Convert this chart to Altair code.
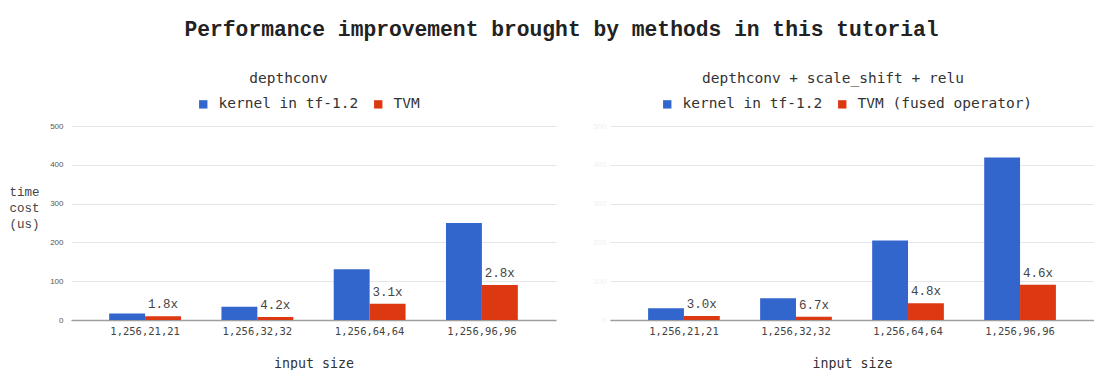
import altair as alt
import pandas as pd

inputs = ["1,256,21,21", "1,256,32,32", "1,256,64,64", "1,256,96,96"]

left_series = ["kernel in tf-1.2", "TVM"]
left_tf = [17, 34, 131, 250]
left_tvm = [9.5, 8, 42, 90]
left_speedup = ["1.8x", "4.2x", "3.1x", "2.8x"]

right_series = ["kernel in tf-1.2", "TVM (fused operator)"]
right_tf = [30, 56, 205, 419]
right_tvm = [10, 8.4, 43, 91]
right_speedup = ["3.0x", "6.7x", "4.8x", "4.6x"]

y_ticks = [0, 100, 200, 300, 400, 500]
colors = ["#3366cc", "#dc3912"]

MONO = "DejaVu Sans Mono"
COURIER = "Courier New, Courier, FreeMono, Nimbus Mono PS, Liberation Mono, monospace"


def panel(tf, tvm, speed, series, title, left, width, legend_x, title_dx):
    rows = []
    for i, inp in enumerate(inputs):
        rows.append({"input": inp, "series": series[0], "value": tf[i], "label": ""})
        rows.append({"input": inp, "series": series[1], "value": tvm[i], "label": speed[i]})
    df = pd.DataFrame(rows)

    x = alt.X(
        "input:N",
        sort=inputs,
        scale=alt.Scale(paddingInner=0.36, paddingOuter=0.34),
        axis=alt.Axis(
            title="input size",
            labelAngle=0,
            labelFont=MONO,
            labelFontSize=10.5,
            labelColor="#444",
            labelPadding=6,
            ticks=False,
            domainColor="#9e9e9e",
            domainWidth=1.5,
            titleFont=MONO,
            titleFontSize=13.3,
            titleFontWeight="normal",
            titleColor="#333",
            titlePadding=20,
        ),
    )
    xo = alt.XOffset(
        "series:N",
        sort=series,
        scale=alt.Scale(domain=series, paddingInner=0, paddingOuter=0),
    )
    if left:
        yaxis = alt.Axis(
            values=y_ticks,
            labelFont="Liberation Sans",
            labelFontSize=8,
            labelColor="#555",
            labelPadding=8,
            ticks=False,
            domain=False,
            gridColor="#e6e6e6",
            title=["time", "cost", "(us)"],
            titleAngle=0,
            titleX=-47,
            titleY=65,
            titleAlign="center",
            titleBaseline="middle",
            titleFont=COURIER,
            titleFontSize=12.5,
            titleFontWeight="normal",
            titleColor="#444",
            titleLineHeight=16,
        )
    else:
        yaxis = alt.Axis(
            values=y_ticks,
            labelFont="Liberation Sans",
            labelFontSize=8,
            labelColor="#f0f0f0",
            labelPadding=4,
            ticks=False,
            domain=False,
            gridColor="#e6e6e6",
            title=None,
        )
    y = alt.Y("value:Q", scale=alt.Scale(domain=[0, 500], nice=False), axis=yaxis)

    bars = alt.Chart(df).mark_bar().encode(
        x=x,
        xOffset=xo,
        y=y,
        color=alt.Color(
            "series:N",
            sort=series,
            scale=alt.Scale(domain=series, range=colors),
            legend=alt.Legend(
                title=None,
                orient="none",
                direction="horizontal",
                legendX=legend_x,
                legendY=-29,
                symbolType="square",
                symbolSize=70,
                symbolStrokeWidth=0,
                labelFont=MONO,
                labelFontSize=14.5,
                labelColor="#333",
                labelOffset=8,
                columnPadding=12,
                labelLimit=400,
            ),
        ),
    )
    texts = alt.Chart(df[df["label"] != ""]).mark_text(
        font=COURIER, fontSize=12.5, color="#444", baseline="bottom", dy=-5
    ).encode(x=x, xOffset=xo, y=y, text="label:N")

    return alt.layer(bars, texts).properties(
        width=width,
        height=194,
        title=alt.TitleParams(
            text=title,
            font=MONO,
            fontSize=14.5,
            fontWeight="normal",
            color="#333",
            anchor="middle",
            dx=title_dx,
            offset=11,
        ),
    )


left_chart = panel(left_tf, left_tvm, left_speedup, left_series, "depthconv", True, 485, 125, -25)
right_chart = panel(
    right_tf, right_tvm, right_speedup, right_series,
    "depthconv + scale_shift + relu", False, 484, 50, -19,
)

chart = (
    alt.hconcat(left_chart, right_chart, spacing=36)
    .resolve_scale(color="independent", xOffset="independent")
    .properties(
        title=alt.TitleParams(
            text="Performance improvement brought by methods in this tutorial",
            font=COURIER,
            fontSize=21.3,
            fontWeight="bold",
            color="#222",
            anchor="middle",
            dx=10,
            offset=30,
        ),
        padding={"left": 0, "top": 11, "right": 0, "bottom": 0},
        background="white",
    )
    .configure_view(stroke=None)
)

chart.save("out.html", embed_options={"renderer": "svg", "actions": False})
